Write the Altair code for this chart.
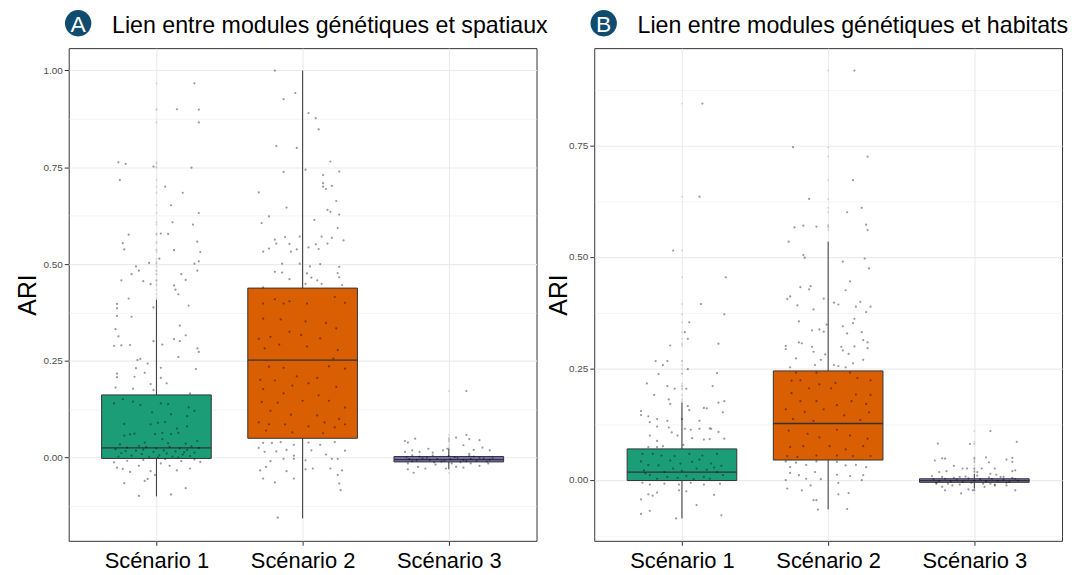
import altair as alt
import pandas as pd

FONT = "Liberation Sans"

categories = ["Scénario 1", "Scénario 2", "Scénario 3"]
colors = ["#1B9E77", "#D95F02", "#7570B3"]

titleA = "Lien entre modules génétiques et spatiaux"
titleB = "Lien entre modules génétiques et habitats"

# boxplot statistics (lower whisker, q1, median, q3, upper whisker)
A_lo = [-0.100, -0.157, -0.030]
A_q1 = [-0.002, 0.050, -0.011]
A_med = [0.025, 0.252, -0.005]
A_q3 = [0.162, 0.438, 0.003]
A_hi = [0.408, 1.000, 0.022]

B_lo = [-0.087, -0.066, -0.020]
B_q1 = [-0.002, 0.044, -0.006]
B_med = [0.017, 0.126, -0.002]
B_q3 = [0.069, 0.244, 0.002]
B_hi = [0.172, 0.534, 0.013]

# jittered observations: (horizontal jitter, ARI)
A1_pts = [
    (0.26, 0.967), (0.14, 0.90), (0.29, 0.899), (0.29, 0.866), (-0.26, 0.763), (-0.21, 0.759), (-0.02, 0.752),
    (0.24, 0.749), (-0.25, 0.717), (0.06, 0.70), (0.18, 0.684), (0.10, 0.652), (0.29, 0.632), (0.11, 0.608),
    (0.25, 0.602), (-0.19, 0.576), (0.03, 0.579), (0.08, 0.578), (-0.23, 0.554), (0.28, 0.558), (-0.22, 0.538),
    (0.12, 0.536), (0.30, 0.531), (0.02, 0.514), (-0.05, 0.503), (0.26, 0.501), (0.29, 0.507), (-0.14, 0.494),
    (-0.12, 0.483), (-0.17, 0.474), (0.28, 0.483), (0.17, 0.474), (-0.24, 0.458), (-0.09, 0.456), (-0.04, 0.448),
    (0.20, 0.459), (0.12, 0.445), (0.13, 0.434), (0.15, 0.422), (-0.19, 0.411),
    (-0.27, 0.397), (-0.27, 0.386), (-0.02, 0.388), (0.22, 0.393), (-0.27, 0.366), (-0.17, 0.364), (0.16, 0.341),
    (-0.28, 0.332), (-0.26, 0.313), (0.20, 0.316), (-0.02, 0.301), (0.12, 0.306), (0.16, 0.301), (-0.29, 0.289),
    (-0.24, 0.290), (-0.18, 0.291), (0.04, 0.292), (0.28, 0.282), (0.29, 0.273), (-0.11, 0.255), (-0.13, 0.252),
    (0.15, 0.260), (-0.06, 0.243), (-0.14, 0.231), (0.03, 0.232), (0.27, 0.229), (-0.08, 0.219), (-0.27, 0.217),
    (-0.27, 0.208), (-0.15, 0.209), (0.03, 0.206), (-0.28, 0.181), (-0.16, 0.178), (-0.02, 0.175), (0.07, 0.192),
    (-0.04, 0.190), (0.23, 0.166),
    (-0.29, 0.140), (-0.23, 0.151), (-0.16, 0.145), (-0.11, 0.136), (0.03, 0.140), (0.08, 0.138), (0.22, 0.130),
    (0.26, 0.121), (-0.03, 0.117), (0.10, 0.112), (0.21, 0.107), (-0.22, 0.087), (-0.04, 0.086), (0.01, 0.090),
    (0.06, 0.092), (0.14, 0.075), (0.21, 0.081), (-0.18, 0.060), (-0.15, 0.062), (-0.01, 0.061), (0.04, 0.064),
    (0.10, 0.061), (0.15, 0.064), (-0.22, 0.057), (-0.08, 0.039), (0.04, 0.048), (0.28, 0.043), (-0.25, 0.034),
    (0.08, 0.037), (0.20, 0.036),
    (-0.28, 0.022), (-0.24, 0.012), (-0.20, 0.026), (-0.17, 0.005), (-0.14, 0.018), (-0.10, 0.009), (-0.07, 0.027),
    (-0.05, 0.002), (-0.02, 0.015), (0.00, 0.024), (0.02, 0.006), (0.05, 0.019), (0.07, 0.011), (0.09, 0.028),
    (0.11, 0.003), (0.13, 0.016), (0.16, 0.024), (0.18, 0.008), (0.21, 0.020), (0.23, 0.004), (0.26, 0.013),
    (0.29, 0.025), (-0.26, 0.003), (-0.12, 0.030), (0.01, 0.001), (0.15, 0.001), (-0.21, 0.017), (0.24, 0.029),
    (-0.09, 0.021), (0.19, 0.014),
    (-0.27, -0.026), (-0.23, -0.029), (-0.18, -0.037), (-0.12, -0.021), (-0.04, -0.035), (0.03, -0.015),
    (0.09, -0.021), (0.14, -0.033), (0.23, -0.028), (0.30, -0.011), (-0.22, -0.066), (-0.08, -0.060),
    (-0.06, -0.055), (-0.01, -0.045), (0.20, -0.079), (-0.12, -0.099), (0.10, -0.095), (-0.20, -0.008),
    (-0.09, -0.006), (0.06, -0.004), (0.17, -0.009), (0.26, -0.005), (-0.29, -0.012),
]
A2_pts = [
    (-0.19, 1.000), (-0.05, 0.942), (-0.13, 0.926), (0.04, 0.890), (0.09, 0.877), (0.11, 0.848), (-0.18, 0.805),
    (-0.04, 0.800), (0.19, 0.765), (0.02, 0.744), (-0.13, 0.738), (0.25, 0.739), (0.14, 0.730), (0.14, 0.709),
    (0.20, 0.702), (0.14, 0.700), (0.16, 0.694), (-0.30, 0.685), (0.23, 0.663), (-0.11, 0.646), (0.17, 0.640),
    (0.19, 0.635), (0.25, 0.628), (-0.23, 0.623), (0.08, 0.614), (-0.28, 0.606), (0.24, 0.593), (-0.12, 0.570),
    (-0.02, 0.571), (0.13, 0.571), (0.20, 0.568), (0.28, 0.561), (-0.19, 0.563), (-0.18, 0.553), (-0.09, 0.552),
    (0.09, 0.551), (0.17, 0.553), (-0.27, 0.532), (-0.23, 0.540), (-0.08, 0.532), (-0.04, 0.538), (0.04, 0.543),
    (0.11, 0.539), (-0.14, 0.501), (-0.02, 0.501), (0.05, 0.494), (0.12, 0.500), (0.25, 0.493), (-0.19, 0.480),
    (-0.14, 0.478), (-0.09, 0.461), (0.03, 0.476), (0.06, 0.465), (0.10, 0.458), (0.24, 0.477), (0.25, 0.466),
    (0.02, 0.449), (0.13, 0.449), (0.27, 0.446), (-0.27, 0.440),
    (-0.27, 0.398), (-0.19, 0.409), (-0.13, 0.398), (-0.09, 0.404), (0.03, 0.398), (0.22, 0.415), (0.29, 0.400),
    (-0.27, 0.359), (-0.15, 0.357), (0.02, 0.352), (0.16, 0.348), (0.23, 0.334), (-0.30, 0.307), (-0.22, 0.312),
    (-0.09, 0.325), (-0.01, 0.317), (0.12, 0.308), (0.24, 0.278), (-0.26, 0.282), (-0.16, 0.292), (0.03, 0.287),
    (0.21, 0.256), (-0.23, 0.235), (-0.13, 0.232), (-0.04, 0.210), (0.10, 0.206), (0.18, 0.236), (0.29, 0.230),
    (-0.29, 0.201), (-0.19, 0.199), (-0.07, 0.186), (0.04, 0.192), (0.23, 0.183), (-0.27, 0.177), (-0.13, 0.166),
    (0.11, 0.161), (-0.28, 0.144), (-0.17, 0.142), (0.00, 0.147), (0.18, 0.147), (0.29, 0.129), (-0.22, 0.121),
    (-0.08, 0.111), (0.10, 0.109), (0.25, 0.100), (-0.30, 0.091), (-0.23, 0.086), (-0.12, 0.086), (0.04, 0.081),
    (0.15, 0.091), (0.29, 0.086), (-0.25, 0.070), (-0.07, 0.065), (0.14, 0.063), (0.22, 0.078),
    (-0.27, 0.038), (-0.21, 0.038), (-0.15, 0.040), (-0.06, 0.033), (0.04, 0.039), (0.12, 0.033), (0.22, 0.040),
    (-0.30, 0.025), (-0.26, 0.015), (-0.18, 0.016), (-0.11, 0.020), (-0.06, 0.005), (0.06, 0.019), (0.16, 0.008),
    (0.29, 0.018), (-0.22, -0.009), (-0.13, -0.003), (-0.06, -0.003), (0.02, -0.007), (0.20, -0.003),
    (0.24, -0.003), (-0.29, -0.033), (-0.25, -0.024), (-0.11, -0.035), (-0.06, -0.054), (0.02, -0.030),
    (0.07, -0.028), (0.19, -0.028), (0.27, -0.033), (-0.27, -0.054), (-0.19, -0.064), (0.24, -0.045),
    (0.25, -0.067), (0.26, -0.084), (-0.17, -0.155),
]
A3_pts = [
    (0.12, 0.172), (-0.23, 0.049), (-0.30, 0.043), (-0.28, 0.039), (0.05, 0.052), (0.12, 0.059), (0.14, 0.048),
    (0.21, 0.045), (0.10, 0.032), (0.23, 0.026), (0.17, 0.020), (0.28, 0.019), (-0.25, 0.019), (-0.30, 0.015),
    (-0.14, 0.023), (-0.04, 0.019), (-0.20, 0.015), (-0.11, 0.013), (-0.01, 0.023), (0.14, 0.010), (-0.25, 0.006),
    (-0.28, -0.015), (-0.28, -0.030), (-0.24, -0.039), (-0.21, -0.024), (-0.16, -0.028), (-0.02, -0.028),
    (0.05, -0.024), (0.10, -0.026), (0.21, -0.021), (0.27, -0.015), (-0.09, -0.018), (0.15, -0.015),
    (-0.27, -0.004), (-0.22, -0.007), (-0.18, -0.002), (-0.13, -0.006), (-0.08, -0.003), (-0.03, -0.008),
    (0.01, -0.004), (0.06, -0.001), (0.10, -0.006), (0.15, -0.003), (0.19, -0.008), (0.24, -0.002),
    (0.28, -0.005), (-0.25, -0.009), (-0.15, 0.000), (-0.05, -0.010), (0.04, 0.001), (0.12, -0.009),
    (0.21, 0.000), (0.26, -0.010), (-0.20, 0.003), (-0.10, -0.012), (0.00, 0.004), (0.08, -0.012),
    (0.17, 0.003), (-0.29, 0.001), (0.30, -0.001), (-0.11, 0.006), (0.02, -0.015), (0.14, 0.005),
]
B1_pts = [
    (0.14, 0.844), (0.12, 0.635), (-0.06, 0.514), (0.30, 0.454), (0.13, 0.394), (0.29, 0.371), (0.05, 0.353),
    (0.02, 0.331), (0.04, 0.316), (-0.08, 0.301), (0.25, 0.305), (-0.18, 0.266), (-0.13, 0.257), (-0.10, 0.266),
    (0.04, 0.248), (-0.16, 0.237), (0.24, 0.239),
    (-0.24, 0.216), (-0.10, 0.210), (-0.05, 0.204), (0.03, 0.204), (0.21, 0.210), (-0.19, 0.190), (-0.09, 0.180),
    (-0.08, 0.170), (0.04, 0.165), (0.05, 0.156), (0.15, 0.161), (0.17, 0.160), (0.25, 0.173), (0.29, 0.176),
    (-0.28, 0.154), (-0.28, 0.145), (-0.23, 0.142), (-0.17, 0.136), (-0.22, 0.129), (-0.10, 0.132), (0.00, 0.136),
    (0.12, 0.132), (0.28, 0.151), (-0.17, 0.119), (-0.09, 0.117), (0.02, 0.114), (0.06, 0.112), (0.12, 0.114),
    (0.19, 0.115), (0.20, 0.114), (0.25, 0.107), (-0.22, 0.099), (-0.07, 0.106), (-0.03, 0.099), (0.07, 0.093),
    (0.15, 0.090), (0.19, 0.091), (0.29, 0.092), (-0.17, 0.087), (0.01, 0.078), (-0.23, 0.073), (-0.17, 0.073),
    (-0.13, 0.075),
    (-0.27, 0.058), (-0.20, 0.058), (-0.14, 0.054), (-0.05, 0.053), (0.05, 0.058), (0.14, 0.054), (0.24, 0.058),
    (-0.28, 0.041), (-0.23, 0.033), (-0.16, 0.032), (-0.08, 0.043), (-0.01, 0.036), (0.07, 0.040), (0.12, 0.045),
    (0.20, 0.036), (0.27, 0.031), (-0.26, 0.021), (-0.12, 0.017), (-0.06, 0.025), (0.10, 0.025), (0.24, 0.017),
    (-0.22, 0.010), (-0.10, 0.006), (0.03, 0.008), (0.15, 0.006), (0.28, 0.010), (-0.17, 0.002), (0.08, 0.001),
    (0.19, 0.002), (-0.25, 0.014), (0.00, 0.020), (0.17, 0.022), (-0.03, 0.004), (0.22, 0.027),
    (-0.27, -0.007), (-0.22, -0.011), (-0.12, -0.009), (-0.02, -0.011), (0.06, -0.007), (0.15, -0.011),
    (0.26, -0.009), (-0.23, -0.033), (-0.20, -0.036), (-0.17, -0.029), (-0.02, -0.024), (0.03, -0.026),
    (0.22, -0.034), (-0.28, -0.044), (0.10, -0.057), (-0.22, -0.070), (-0.28, -0.077), (-0.04, -0.087),
    (0.27, -0.080),
]
B2_pts = [
    (0.18, 0.918), (-0.24, 0.746), (0.27, 0.725), (0.17, 0.672), (-0.13, 0.630), (0.23, 0.610), (0.13, 0.600),
    (0.26, 0.572), (0.27, 0.560), (-0.23, 0.566), (-0.17, 0.570), (-0.08, 0.568), (-0.27, 0.534), (-0.17, 0.504),
    (-0.16, 0.498), (0.10, 0.489), (0.25, 0.496), (0.28, 0.474), (0.15, 0.445), (-0.19, 0.432), (-0.12, 0.434),
    (-0.13, 0.427), (0.12, 0.425), (-0.26, 0.411), (-0.28, 0.405), (-0.03, 0.406), (-0.21, 0.391), (-0.10, 0.382),
    (0.04, 0.397), (0.07, 0.393), (0.22, 0.399), (0.19, 0.388), (0.29, 0.388), (0.26, 0.376), (0.18, 0.361),
    (-0.20, 0.355), (0.17, 0.351), (-0.01, 0.348), (0.10, 0.344), (-0.11, 0.335), (-0.06, 0.337), (-0.03, 0.332),
    (0.13, 0.328), (0.23, 0.331), (0.24, 0.313), (0.27, 0.308), (-0.20, 0.308), (-0.18, 0.306), (-0.29, 0.300),
    (-0.29, 0.293), (-0.11, 0.298), (-0.10, 0.287), (0.09, 0.298), (0.10, 0.290), (0.18, 0.299), (0.27, 0.295),
    (0.14, 0.282), (-0.02, 0.281), (-0.22, 0.272), (-0.05, 0.269), (0.24, 0.269), (0.17, 0.261), (-0.09, 0.257),
    (0.04, 0.257), (0.07, 0.255), (0.12, 0.252), (-0.26, 0.252),
    (-0.22, 0.240), (-0.08, 0.240), (0.15, 0.240), (-0.25, 0.222), (-0.19, 0.223), (-0.06, 0.214), (0.05, 0.217),
    (0.20, 0.228), (0.29, 0.223), (-0.25, 0.194), (-0.13, 0.205), (0.02, 0.205), (0.19, 0.191), (0.29, 0.190),
    (-0.19, 0.176), (-0.08, 0.176), (0.06, 0.167), (0.16, 0.176), (0.26, 0.170), (-0.29, 0.158), (-0.16, 0.152),
    (-0.03, 0.158), (0.11, 0.144), (0.28, 0.151), (-0.24, 0.136), (-0.10, 0.132), (0.22, 0.134), (-0.27, 0.110),
    (-0.14, 0.103), (-0.06, 0.095), (0.06, 0.112), (0.15, 0.099), (0.27, 0.092), (-0.26, 0.073), (-0.17, 0.075),
    (0.01, 0.075), (0.12, 0.068), (0.24, 0.075), (-0.28, 0.053), (-0.21, 0.051), (-0.08, 0.054), (0.06, 0.054),
    (0.17, 0.053), (0.29, 0.053),
    (-0.29, 0.041), (-0.22, 0.038), (-0.15, 0.033), (-0.08, 0.041), (0.06, 0.040), (0.12, 0.032), (0.19, 0.033),
    (0.26, 0.028), (-0.26, 0.028), (-0.26, 0.015), (-0.20, 0.010), (-0.09, 0.017), (0.06, 0.011), (0.15, 0.008),
    (0.24, 0.010), (-0.29, -0.001), (-0.15, 0.002), (-0.05, 0.001), (0.07, -0.007), (0.23, -0.001),
    (-0.28, -0.020), (-0.18, -0.024), (-0.12, -0.013), (0.14, -0.030), (-0.10, -0.046), (-0.08, -0.046),
    (0.07, -0.033), (-0.07, -0.067), (0.13, -0.066),
]
B3_pts = [
    (0.11, 0.109), (-0.25, 0.081), (-0.03, 0.080), (0.29, 0.085), (-0.27, 0.043), (-0.22, 0.048), (-0.20, 0.047),
    (0.08, 0.050), (0.10, 0.039), (0.22, 0.045), (0.26, 0.049), (0.26, 0.040), (-0.14, 0.031), (-0.08, 0.025),
    (-0.05, 0.025), (0.05, 0.025), (0.14, 0.025), (-0.24, 0.017), (-0.19, 0.019), (0.02, 0.017), (0.11, 0.013),
    (0.15, 0.011), (0.26, 0.019), (0.28, 0.021), (-0.29, 0.008), (-0.10, 0.006), (0.20, 0.006),
    (-0.26, -0.009), (-0.22, -0.016), (-0.20, -0.024), (-0.15, -0.013), (-0.09, -0.031), (-0.04, -0.022),
    (-0.01, -0.024), (0.07, -0.016), (0.14, -0.013), (0.22, -0.013), (0.28, -0.024), (0.11, -0.009),
    (-0.28, 0.001), (-0.24, -0.003), (-0.20, 0.002), (-0.16, -0.004), (-0.12, 0.000), (-0.08, -0.005),
    (-0.04, 0.003), (0.00, -0.002), (0.04, 0.001), (0.08, -0.004), (0.12, 0.002), (0.16, -0.003), (0.20, 0.000),
    (0.24, -0.005), (0.28, 0.002), (-0.26, -0.007), (-0.14, 0.004), (-0.02, -0.007), (0.10, 0.005),
    (0.22, -0.007), (-0.18, -0.009), (0.06, -0.009), (0.18, 0.006), (-0.06, 0.007), (0.26, 0.004),
    (-0.10, -0.011), (0.02, 0.009), (0.14, -0.011), (-0.22, 0.006), (0.30, -0.002),
]


def make_points(groups):
    rows = []
    for i, pts in enumerate(groups):
        for j, v in pts:
            rows.append({"cat": categories[i], "idx": i + 1, "jit": j, "val": v})
    return pd.DataFrame(rows)


def make_box(lo, q1, med, q3, hi):
    return pd.DataFrame({"cat": categories, "idx": [1, 2, 3], "lo": lo, "q1": q1,
                         "med": med, "q3": q3, "hi": hi})


GRID = "#EBEBEB"
TEST = "abs(datum.value*4 - round(datum.value*4)) < 0.001"
x_label_expr = "[" + ",".join("'" + c + "'" for c in categories) + "][datum.value - 1]"


def panel(pts, box, letter, title, title_pad):
    out = pts.merge(box[["cat", "lo", "hi"]], on="cat")
    out = out[(out.val > out.hi) | (out.val < out.lo)]
    vmin = min(box.lo.min(), pts.val.min())
    vmax = max(box.hi.max(), pts.val.max())
    ext = 0.05 * (vmax - vmin)
    d0, d1 = vmin - ext, vmax + ext
    steps = [-0.25, 0.0, 0.25, 0.5, 0.75, 1.0]
    vals = sorted([v for v in steps if d0 <= v <= d1] +
                  [v + 0.125 for v in steps if d0 <= v + 0.125 <= d1])

    ysc = alt.Scale(domain=[d0, d1], nice=False, zero=False)
    xsc = alt.Scale(domain=[0.4, 3.6], nice=False, zero=False)
    yax = alt.Axis(values=vals, title="ARI", titleFont=FONT, titleFontSize=25,
                   titleFontWeight="normal", titleColor="black", titlePadding=title_pad,
                   titleBaseline="alphabetic",
                   labelExpr=f"{TEST} ? format(datum.value, '.2f') : ''",
                   labelFont=FONT, labelFontSize=10, labelColor="#4D4D4D", labelPadding=2,
                   tickColor="#333333", tickSize=4.5, tickWidth=1,
                   tickOpacity={"condition": {"test": TEST, "value": 1}, "value": 0},
                   domain=False, grid=True, gridColor=GRID,
                   gridWidth={"condition": {"test": TEST, "value": 1.1}, "value": 0.55})
    xax = alt.Axis(values=[1, 2, 3], labelExpr=x_label_expr, title=None,
                   labelFont=FONT, labelFontSize=22, labelColor="black", labelPadding=5,
                   tickColor="#333333", tickSize=4.5, tickWidth=1, domain=False,
                   grid=True, gridColor=GRID, gridWidth=1.1)

    def X(f):
        return alt.X(f, type="quantitative", scale=xsc, axis=xax)

    def Y(f):
        return alt.Y(f, type="quantitative", scale=ysc, axis=yax)

    base = alt.Chart(box).transform_calculate(xl="datum.idx - 0.375", xr="datum.idx + 0.375")
    wh_hi = base.mark_rule(color="#333333", strokeWidth=1).encode(x=X("idx"), y=Y("q3"), y2="hi")
    wh_lo = base.mark_rule(color="#333333", strokeWidth=1).encode(x=X("idx"), y=Y("lo"), y2="q1")
    rect = base.mark_rect(stroke="#333333", strokeWidth=1).encode(
        x=X("xl"), x2="xr", y=Y("q1"), y2="q3",
        fill=alt.Fill("cat:N", scale=alt.Scale(domain=categories, range=colors), legend=None))
    med = base.mark_rule(color="#333333", strokeWidth=1.3).encode(x=X("xl"), x2="xr", y=Y("med"))
    outl = alt.Chart(out).mark_circle(size=4, color="black", opacity=0.12).encode(x=X("idx"), y=Y("val"))
    jit = alt.Chart(pts).transform_calculate(xj="datum.idx + datum.jit").mark_circle(
        size=5, color="black", opacity=0.4).encode(x=X("xj"), y=Y("val"))

    lab = pd.DataFrame({"letter": [letter], "title": [title]})
    badge = alt.Chart(lab).mark_circle(size=700, color="#0F4C6E", opacity=1).encode(
        x=alt.value(9.5), y=alt.value(-25))
    badge_t = alt.Chart(lab).mark_text(color="white", fontSize=23, font=FONT, baseline="alphabetic",
                                       align="center").encode(x=alt.value(9.5), y=alt.value(-16.7),
                                                              text="letter:N")
    ttl = alt.Chart(lab).mark_text(color="black", fontSize=23.3, font=FONT, baseline="alphabetic",
                                   align="left").encode(x=alt.value(43.5), y=alt.value(-15),
                                                        text="title:N")
    return alt.layer(wh_hi, wh_lo, rect, med, outl, jit, badge, badge_t, ttl).properties(
        width=470, height=495)


ptsA = make_points([A1_pts, A2_pts, A3_pts])
ptsB = make_points([B1_pts, B2_pts, B3_pts])
boxA = make_box(A_lo, A_q1, A_med, A_q3, A_hi)
boxB = make_box(B_lo, B_q1, B_med, B_q3, B_hi)

pA = panel(ptsA, boxA, "A", titleA, 7.5)
pB = panel(ptsB, boxB, "B", titleB, 1.5)

chart = alt.hconcat(pA, pB, spacing=58, bounds="flush").properties(
    padding={"left": 7, "top": 0, "right": 0, "bottom": 0}, background="white"
).configure_view(stroke="#333333", strokeWidth=1)

chart.save("out.html", embed_options={"renderer": "svg", "actions": False})
